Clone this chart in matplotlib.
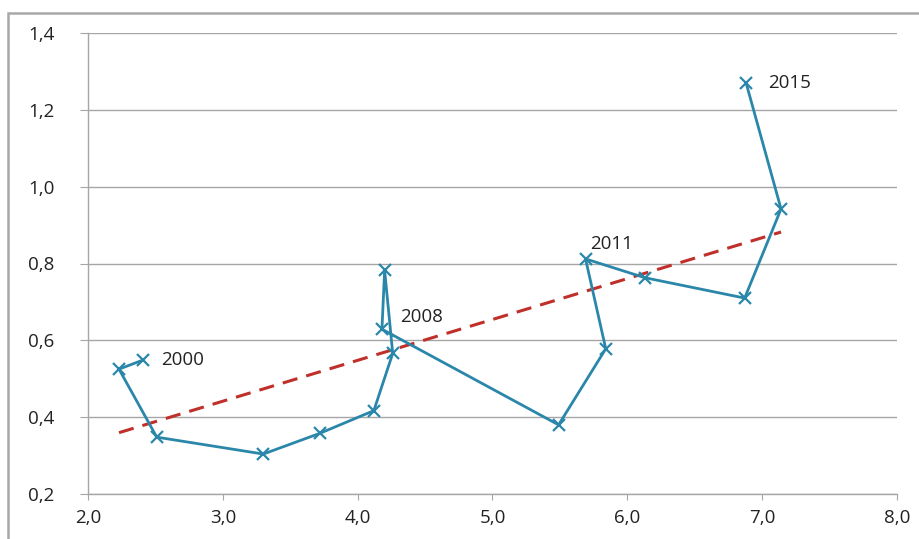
import matplotlib
matplotlib.use("Agg")
import matplotlib.pyplot as plt
from matplotlib.patches import Rectangle
import numpy as np

years = list(range(2000, 2016))
x_vals = [2.41, 2.23, 2.51, 3.30, 3.72, 4.12, 4.26, 4.20, 4.18, 5.49, 5.84, 5.69, 6.13, 6.87, 7.14, 6.88]
y_vals = [0.549, 0.525, 0.348, 0.304, 0.358, 0.417, 0.566, 0.782, 0.629, 0.380, 0.578, 0.812, 0.763, 0.710, 0.942, 1.271]
labelled_years = [2000, 2008, 2011, 2015]
x_ticks = [2.0, 3.0, 4.0, 5.0, 6.0, 7.0, 8.0]
y_ticks = [0.2, 0.4, 0.6, 0.8, 1.0, 1.2, 1.4]

plt.rcParams['font.family'] = ['Open Sans', 'DejaVu Sans']

fig = plt.figure(figsize=(9.2, 5.39), dpi=100)
fig.patch.set_facecolor('white')
ax = fig.add_axes([88/920, 1-494/539, (897-88)/920, (494-33)/539])

# outer chart border
fig.add_artist(Rectangle((8/920, -0.05), 1.1, 1-13/539+0.05, transform=fig.transFigure,
                         fill=False, edgecolor='#A8A8A8', linewidth=1.8, zorder=0))

grey = '#A6A6A6'
ax.set_xlim(2.0, 8.0)
ax.set_ylim(0.2, 1.4)
ax.set_yticks(y_ticks)
ax.set_xticks(x_ticks)
ax.set_yticklabels([f"{v:.1f}".replace('.', ',') for v in y_ticks])
ax.set_xticklabels([f"{v:.1f}".replace('.', ',') for v in x_ticks])
ax.grid(axis='y', color=grey, linewidth=1.0)
ax.set_axisbelow(True)
for s in ['top', 'right']:
    ax.spines[s].set_visible(False)
for s in ['left', 'bottom']:
    ax.spines[s].set_color(grey)
    ax.spines[s].set_linewidth(1.0)
ax.tick_params(axis='y', length=6, color=grey, labelsize=13.5, pad=18, labelcolor='#222222')
ax.tick_params(axis='x', length=4, color=grey, labelsize=13.5, pad=7, labelcolor='#222222')

# trend line (linear regression over data range)
coef = np.polyfit(x_vals, y_vals, 1)
tx = np.array([min(x_vals), max(x_vals)])
ax.plot(tx, np.polyval(coef, tx), color='#C0302B', linewidth=2.2, dashes=(5, 3), zorder=2)

ax.plot(x_vals, y_vals, color='#2A87AA', linewidth=2.0, marker='x', markersize=8,
        markeredgewidth=1.6, zorder=3)

offsets = {2000: (13, 0), 2008: (13, 9), 2011: (3, 11), 2015: (16, 0)}
for yr in labelled_years:
    i = years.index(yr)
    ax.annotate(str(yr), (x_vals[i], y_vals[i]), xytext=offsets[yr], textcoords='offset points',
                ha='left', va='center', fontsize=13.5, color='#222222')

fig.savefig('out.png', dpi=100)
